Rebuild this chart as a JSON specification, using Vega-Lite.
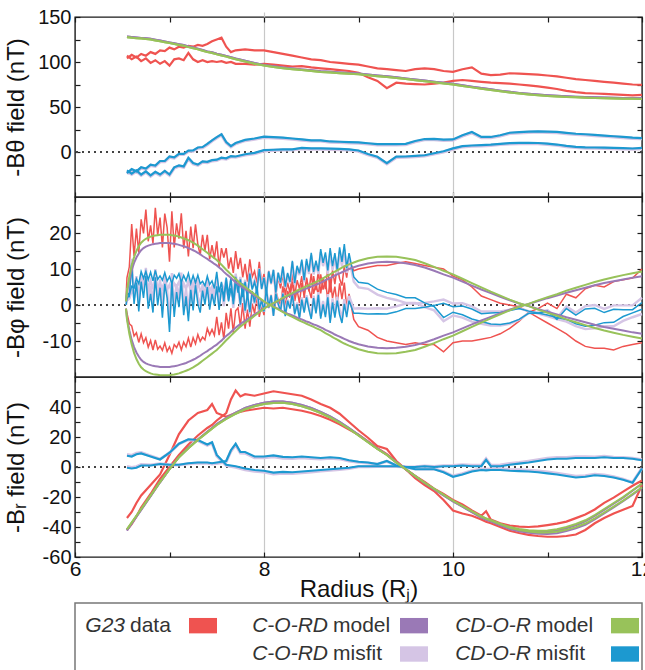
{
  "$schema": "https://vega.github.io/schema/vega-lite/v6.json",
  "background": "white",
  "padding": {"left": 3, "top": 6, "right": -8, "bottom": 0},
  "spacing": 0,
  "config": {
    "font": "Liberation Sans",
    "view": {"stroke": "#1a1a1a", "strokeWidth": 1.4},
    "axis": {"domain": false, "tickColor": "#1a1a1a", "tickWidth": 1.2, "tickSize": 5, "offset": -5, "labelPadding": 4, "labelFontSize": 20, "labelColor": "#111", "titleFontSize": 24, "titleFontWeight": "normal", "titleColor": "#111", "gridColor": "#c8c8c8", "gridWidth": 1.2, "labelFlush": false},
    "axisX": {"labelFontSize": 21, "labelPadding": 1}
  },
  "datasets": {
    "th": [
      {"b":"A","r":6.55,"d":104,"p":128.3,"g":127.5,"q":-24.3,"c":-23.5},
      {"b":"A","r":6.6,"d":108,"p":127.8,"g":127,"q":-19.8,"c":-19},
      {"b":"A","r":6.65,"d":105,"p":127.3,"g":126.5,"q":-22.3,"c":-21.5},
      {"b":"A","r":6.7,"d":109,"p":126.8,"g":126,"q":-17.8,"c":-17},
      {"b":"A","r":6.75,"d":107,"p":126.3,"g":125.5,"q":-19.3,"c":-18.5},
      {"b":"A","r":6.8,"d":111,"p":125.8,"g":125,"q":-14.8,"c":-14},
      {"b":"A","r":6.85,"d":109,"p":124.8,"g":124,"q":-15.8,"c":-15},
      {"b":"A","r":6.9,"d":113,"p":123.8,"g":123,"q":-10.8,"c":-10},
      {"b":"A","r":6.95,"d":112,"p":122.8,"g":122,"q":-10.8,"c":-10},
      {"b":"A","r":7.0,"d":116,"p":121.8,"g":121,"q":-5.8,"c":-5},
      {"b":"A","r":7.05,"d":114,"p":120.8,"g":120,"q":-6.8,"c":-6},
      {"b":"A","r":7.1,"d":117,"p":119.8,"g":119,"q":-2.8,"c":-2},
      {"b":"A","r":7.15,"d":116,"p":118.8,"g":118,"q":-2.8,"c":-2},
      {"b":"A","r":7.2,"d":118,"p":117.3,"g":116.5,"q":0.7,"c":1.5},
      {"b":"A","r":7.25,"d":117,"p":116.1,"g":115.3,"q":0.9,"c":1.7},
      {"b":"A","r":7.3,"d":119,"p":114.8,"g":114,"q":4.2,"c":5},
      {"b":"A","r":7.35,"d":118,"p":113.3,"g":112.5,"q":4.7,"c":5.5},
      {"b":"A","r":7.4,"d":120,"p":111.8,"g":111,"q":8.2,"c":9},
      {"b":"A","r":7.45,"d":123,"p":110.8,"g":110,"q":12.2,"c":13},
      {"b":"A","r":7.5,"d":125,"p":109.3,"g":108.5,"q":15.7,"c":16.5},
      {"b":"A","r":7.55,"d":127,"p":108.1,"g":107.3,"q":18.9,"c":19.7},
      {"b":"A","r":7.6,"d":117,"p":106.8,"g":106,"q":10.2,"c":11},
      {"b":"A","r":7.65,"d":111,"p":105.3,"g":104.5,"q":5.7,"c":6.5},
      {"b":"A","r":7.7,"d":113,"p":103.8,"g":103,"q":9.2,"c":10},
      {"b":"A","r":7.8,"d":114,"p":101.3,"g":100.5,"q":12.7,"c":13.5},
      {"b":"A","r":7.9,"d":113,"p":98.8,"g":98,"q":14.2,"c":15},
      {"b":"A","r":8.0,"d":113,"p":96.8,"g":96,"q":16.2,"c":17},
      {"b":"A","r":8.1,"d":111,"p":95.3,"g":94.5,"q":15.7,"c":16.5},
      {"b":"A","r":8.2,"d":109,"p":93.8,"g":93,"q":15.2,"c":16},
      {"b":"A","r":8.3,"d":107,"p":92.8,"g":92,"q":14.2,"c":15},
      {"b":"A","r":8.4,"d":105,"p":91.8,"g":91,"q":13.2,"c":14},
      {"b":"A","r":8.5,"d":103,"p":90.8,"g":90,"q":12.2,"c":13},
      {"b":"A","r":8.6,"d":102,"p":89.8,"g":89,"q":12.2,"c":13},
      {"b":"A","r":8.7,"d":100,"p":89.1,"g":88.3,"q":10.9,"c":11.7},
      {"b":"A","r":8.8,"d":99,"p":88.4,"g":87.6,"q":10.6,"c":11.4},
      {"b":"A","r":8.9,"d":98,"p":87.8,"g":87,"q":10.2,"c":11},
      {"b":"A","r":9.0,"d":97,"p":87.1,"g":86.3,"q":9.9,"c":10.7},
      {"b":"A","r":9.1,"d":95,"p":86.1,"g":85.3,"q":8.9,"c":9.7},
      {"b":"A","r":9.2,"d":93,"p":85.1,"g":84.3,"q":7.9,"c":8.7},
      {"b":"A","r":9.3,"d":92,"p":84.1,"g":83.3,"q":7.9,"c":8.7},
      {"b":"A","r":9.4,"d":91,"p":83,"g":82.2,"q":8,"c":8.8},
      {"b":"A","r":9.5,"d":90,"p":81.8,"g":81,"q":8.2,"c":9},
      {"b":"A","r":9.6,"d":92,"p":80.6,"g":79.8,"q":11.4,"c":12.2},
      {"b":"A","r":9.7,"d":93,"p":79.4,"g":78.6,"q":13.6,"c":14.4},
      {"b":"A","r":9.8,"d":92,"p":78.2,"g":77.4,"q":13.8,"c":14.6},
      {"b":"A","r":9.9,"d":90,"p":77,"g":76.2,"q":13,"c":13.8},
      {"b":"A","r":10.0,"d":89,"p":75.8,"g":75,"q":13.2,"c":14},
      {"b":"A","r":10.1,"d":92,"p":74.2,"g":73.4,"q":17.8,"c":18.6},
      {"b":"A","r":10.2,"d":94,"p":72.6,"g":71.8,"q":21.4,"c":22.2},
      {"b":"A","r":10.3,"d":87,"p":71.1,"g":70.3,"q":15.9,"c":16.7},
      {"b":"A","r":10.4,"d":85.5,"p":69.6,"g":68.8,"q":15.9,"c":16.7},
      {"b":"A","r":10.5,"d":86,"p":68.2,"g":67.4,"q":17.8,"c":18.6},
      {"b":"A","r":10.6,"d":87.5,"p":66.9,"g":66.1,"q":20.6,"c":21.4},
      {"b":"A","r":10.7,"d":87,"p":65.7,"g":64.9,"q":21.3,"c":22.1},
      {"b":"A","r":10.8,"d":86.5,"p":64.7,"g":63.9,"q":21.8,"c":22.6},
      {"b":"A","r":10.9,"d":86,"p":63.8,"g":63,"q":22.2,"c":23},
      {"b":"A","r":11.0,"d":85,"p":63.1,"g":62.3,"q":21.9,"c":22.7},
      {"b":"A","r":11.1,"d":84,"p":62.5,"g":61.7,"q":21.5,"c":22.3},
      {"b":"A","r":11.2,"d":82.5,"p":62,"g":61.2,"q":20.5,"c":21.3},
      {"b":"A","r":11.3,"d":81,"p":61.5,"g":60.7,"q":19.5,"c":20.3},
      {"b":"A","r":11.4,"d":80,"p":61.1,"g":60.3,"q":18.9,"c":19.7},
      {"b":"A","r":11.5,"d":79,"p":60.8,"g":60,"q":18.2,"c":19},
      {"b":"A","r":11.6,"d":78,"p":60.5,"g":59.7,"q":17.5,"c":18.3},
      {"b":"A","r":11.7,"d":77,"p":60.3,"g":59.5,"q":16.7,"c":17.5},
      {"b":"A","r":11.8,"d":76,"p":60.1,"g":59.3,"q":15.9,"c":16.7},
      {"b":"A","r":11.9,"d":75,"p":59.9,"g":59.1,"q":15.1,"c":15.9},
      {"b":"A","r":12.0,"d":74.5,"p":59.8,"g":59,"q":14.7,"c":15.5},
      {"b":"B","r":6.55,"d":107,"p":128.3,"g":127.5,"q":-21.3,"c":-20.5},
      {"b":"B","r":6.6,"d":103,"p":127.8,"g":127,"q":-24.8,"c":-24},
      {"b":"B","r":6.65,"d":106,"p":127.3,"g":126.5,"q":-21.3,"c":-20.5},
      {"b":"B","r":6.7,"d":101,"p":126.8,"g":126,"q":-25.8,"c":-25},
      {"b":"B","r":6.75,"d":104,"p":126.3,"g":125.5,"q":-22.3,"c":-21.5},
      {"b":"B","r":6.8,"d":99,"p":125.8,"g":125,"q":-26.8,"c":-26},
      {"b":"B","r":6.85,"d":102,"p":124.8,"g":124,"q":-22.8,"c":-22},
      {"b":"B","r":6.9,"d":98,"p":123.8,"g":123,"q":-25.8,"c":-25},
      {"b":"B","r":6.95,"d":101,"p":122.8,"g":122,"q":-21.8,"c":-21},
      {"b":"B","r":7.0,"d":96,"p":121.8,"g":121,"q":-25.8,"c":-25},
      {"b":"B","r":7.05,"d":103,"p":120.8,"g":120,"q":-17.8,"c":-17},
      {"b":"B","r":7.1,"d":104,"p":119.8,"g":119,"q":-15.8,"c":-15},
      {"b":"B","r":7.15,"d":102,"p":118.8,"g":118,"q":-16.8,"c":-16},
      {"b":"B","r":7.2,"d":110,"p":117.3,"g":116.5,"q":-7.3,"c":-6.5},
      {"b":"B","r":7.25,"d":103,"p":116.1,"g":115.3,"q":-13.1,"c":-12.3},
      {"b":"B","r":7.3,"d":100,"p":114.8,"g":114,"q":-14.8,"c":-14},
      {"b":"B","r":7.35,"d":102,"p":113.3,"g":112.5,"q":-11.3,"c":-10.5},
      {"b":"B","r":7.4,"d":100,"p":111.8,"g":111,"q":-11.8,"c":-11},
      {"b":"B","r":7.45,"d":101,"p":110.8,"g":110,"q":-9.8,"c":-9},
      {"b":"B","r":7.5,"d":100,"p":109.3,"g":108.5,"q":-9.3,"c":-8.5},
      {"b":"B","r":7.55,"d":101,"p":108.1,"g":107.3,"q":-7.1,"c":-6.3},
      {"b":"B","r":7.6,"d":99,"p":106.8,"g":106,"q":-7.8,"c":-7},
      {"b":"B","r":7.65,"d":100,"p":105.3,"g":104.5,"q":-5.3,"c":-4.5},
      {"b":"B","r":7.7,"d":98,"p":103.8,"g":103,"q":-5.8,"c":-5},
      {"b":"B","r":7.8,"d":98,"p":101.3,"g":100.5,"q":-3.3,"c":-2.5},
      {"b":"B","r":7.9,"d":97,"p":98.8,"g":98,"q":-1.8,"c":-1},
      {"b":"B","r":8.0,"d":98,"p":96.8,"g":96,"q":1.2,"c":2},
      {"b":"B","r":8.1,"d":97,"p":95.3,"g":94.5,"q":1.7,"c":2.5},
      {"b":"B","r":8.2,"d":96,"p":93.8,"g":93,"q":2.2,"c":3},
      {"b":"B","r":8.3,"d":95,"p":92.8,"g":92,"q":2.2,"c":3},
      {"b":"B","r":8.4,"d":95.5,"p":91.8,"g":91,"q":3.7,"c":4.5},
      {"b":"B","r":8.5,"d":94,"p":90.8,"g":90,"q":3.2,"c":4},
      {"b":"B","r":8.6,"d":93,"p":89.8,"g":89,"q":3.2,"c":4},
      {"b":"B","r":8.7,"d":92,"p":89.1,"g":88.3,"q":2.9,"c":3.7},
      {"b":"B","r":8.8,"d":91,"p":88.4,"g":87.6,"q":2.6,"c":3.4},
      {"b":"B","r":8.9,"d":90,"p":87.8,"g":87,"q":2.2,"c":3},
      {"b":"B","r":9.0,"d":88,"p":87.1,"g":86.3,"q":0.9,"c":1.7},
      {"b":"B","r":9.1,"d":83,"p":86.1,"g":85.3,"q":-3.1,"c":-2.3},
      {"b":"B","r":9.2,"d":79,"p":85.1,"g":84.3,"q":-6.1,"c":-5.3},
      {"b":"B","r":9.3,"d":71,"p":84.1,"g":83.3,"q":-13.1,"c":-12.3},
      {"b":"B","r":9.4,"d":77,"p":83,"g":82.2,"q":-6,"c":-5.2},
      {"b":"B","r":9.5,"d":76,"p":81.8,"g":81,"q":-5.8,"c":-5},
      {"b":"B","r":9.6,"d":75.5,"p":80.6,"g":79.8,"q":-5.1,"c":-4.3},
      {"b":"B","r":9.7,"d":75,"p":79.4,"g":78.6,"q":-4.4,"c":-3.6},
      {"b":"B","r":9.8,"d":76,"p":78.2,"g":77.4,"q":-2.2,"c":-1.4},
      {"b":"B","r":9.9,"d":77,"p":77,"g":76.2,"q":0,"c":0.8},
      {"b":"B","r":10.0,"d":79,"p":75.8,"g":75,"q":3.2,"c":4},
      {"b":"B","r":10.1,"d":80,"p":74.2,"g":73.4,"q":5.8,"c":6.6},
      {"b":"B","r":10.2,"d":79,"p":72.6,"g":71.8,"q":6.4,"c":7.2},
      {"b":"B","r":10.3,"d":78,"p":71.1,"g":70.3,"q":6.9,"c":7.7},
      {"b":"B","r":10.4,"d":77,"p":69.6,"g":68.8,"q":7.4,"c":8.2},
      {"b":"B","r":10.5,"d":76.5,"p":68.2,"g":67.4,"q":8.3,"c":9.1},
      {"b":"B","r":10.6,"d":76,"p":66.9,"g":66.1,"q":9.1,"c":9.9},
      {"b":"B","r":10.7,"d":75,"p":65.7,"g":64.9,"q":9.3,"c":10.1},
      {"b":"B","r":10.8,"d":74,"p":64.7,"g":63.9,"q":9.3,"c":10.1},
      {"b":"B","r":10.9,"d":73,"p":63.8,"g":63,"q":9.2,"c":10},
      {"b":"B","r":11.0,"d":71.5,"p":63.1,"g":62.3,"q":8.4,"c":9.2},
      {"b":"B","r":11.1,"d":70,"p":62.5,"g":61.7,"q":7.5,"c":8.3},
      {"b":"B","r":11.2,"d":68,"p":62,"g":61.2,"q":6,"c":6.8},
      {"b":"B","r":11.3,"d":66.5,"p":61.5,"g":60.7,"q":5,"c":5.8},
      {"b":"B","r":11.4,"d":65.5,"p":61.1,"g":60.3,"q":4.4,"c":5.2},
      {"b":"B","r":11.5,"d":65,"p":60.8,"g":60,"q":4.2,"c":5},
      {"b":"B","r":11.6,"d":64.5,"p":60.5,"g":59.7,"q":4,"c":4.8},
      {"b":"B","r":11.7,"d":64,"p":60.3,"g":59.5,"q":3.7,"c":4.5},
      {"b":"B","r":11.8,"d":63.5,"p":60.1,"g":59.3,"q":3.4,"c":4.2},
      {"b":"B","r":11.9,"d":63,"p":59.9,"g":59.1,"q":3.1,"c":3.9},
      {"b":"B","r":12.0,"d":63.5,"p":59.8,"g":59,"q":3.7,"c":4.5}
    ],
    "ph": [
      {"b":"U","r":6.54,"d":2,"p":1,"g":1,"q":1,"c":1},
      {"b":"U","r":6.55,"d":7.6,"p":3.5,"g":4,"q":4.1,"c":3.6},
      {"b":"U","r":6.575,"d":10.6,"p":7,"g":8,"q":3.6,"c":2.6},
      {"b":"U","r":6.6,"d":22.5,"p":9.7,"g":11,"q":12.8,"c":11.5},
      {"b":"U","r":6.625,"d":13.6,"p":11.7,"g":13.3,"q":1.9,"c":0.3},
      {"b":"U","r":6.65,"d":21.2,"p":13.2,"g":15,"q":8,"c":6.2},
      {"b":"U","r":6.675,"d":14.5,"p":14.3,"g":16.3,"q":0.2,"c":-1.8},
      {"b":"U","r":6.7,"d":23.8,"p":15.2,"g":17.3,"q":8.6,"c":6.5},
      {"b":"U","r":6.725,"d":19.9,"p":15.8,"g":17.9,"q":4.1,"c":2},
      {"b":"U","r":6.75,"d":26.5,"p":16.2,"g":18.4,"q":10.3,"c":8.1},
      {"b":"U","r":6.775,"d":17.7,"p":16.5,"g":18.7,"q":1.2,"c":-1},
      {"b":"U","r":6.8,"d":22.1,"p":16.7,"g":19,"q":5.4,"c":3.1},
      {"b":"U","r":6.825,"d":17.1,"p":16.9,"g":19.2,"q":0.2,"c":-2.1},
      {"b":"U","r":6.85,"d":27,"p":17,"g":19.3,"q":10,"c":7.7},
      {"b":"U","r":6.875,"d":19.3,"p":17.1,"g":19.4,"q":2.2,"c":-0.1},
      {"b":"U","r":6.9,"d":24.3,"p":17.2,"g":19.5,"q":7.1,"c":4.8},
      {"b":"U","r":6.925,"d":16,"p":17.2,"g":19.5,"q":-1.2,"c":-3.5},
      {"b":"U","r":6.95,"d":25.4,"p":17.2,"g":19.5,"q":8.2,"c":5.9},
      {"b":"U","r":6.975,"d":21.5,"p":17.2,"g":19.5,"q":4.3,"c":2},
      {"b":"U","r":7.0,"d":12,"p":17.2,"g":19.5,"q":-5.2,"c":-7.5},
      {"b":"U","r":7.025,"d":26,"p":17.1,"g":19.4,"q":8.9,"c":6.6},
      {"b":"U","r":7.05,"d":16,"p":17,"g":19.3,"q":-1,"c":-3.3},
      {"b":"U","r":7.075,"d":22.7,"p":16.9,"g":19.15,"q":5.8,"c":3.6},
      {"b":"U","r":7.1,"d":18.4,"p":16.7,"g":19,"q":1.7,"c":-0.6},
      {"b":"U","r":7.125,"d":25.5,"p":16.5,"g":18.75,"q":9,"c":6.8},
      {"b":"U","r":7.15,"d":15.7,"p":16.3,"g":18.5,"q":-0.6,"c":-2.8},
      {"b":"U","r":7.175,"d":20.6,"p":16.1,"g":18.25,"q":4.5,"c":2.4},
      {"b":"U","r":7.2,"d":13.5,"p":15.8,"g":18,"q":-2.3,"c":-4.5},
      {"b":"U","r":7.225,"d":21.8,"p":15.5,"g":17.65,"q":6.3,"c":4.2},
      {"b":"U","r":7.25,"d":15.8,"p":15.2,"g":17.3,"q":0.6,"c":-1.5},
      {"b":"U","r":7.275,"d":22.4,"p":14.9,"g":16.9,"q":7.5,"c":5.5},
      {"b":"U","r":7.3,"d":16.8,"p":14.5,"g":16.5,"q":2.3,"c":0.3},
      {"b":"U","r":7.325,"d":13.9,"p":14.1,"g":16,"q":-0.2,"c":-2.1},
      {"b":"U","r":7.35,"d":19.5,"p":13.6,"g":15.5,"q":5.9,"c":4},
      {"b":"U","r":7.375,"d":15.1,"p":13.2,"g":15,"q":1.9,"c":0.1},
      {"b":"U","r":7.4,"d":19.5,"p":12.8,"g":14.5,"q":6.7,"c":5},
      {"b":"U","r":7.425,"d":12.7,"p":12.3,"g":14,"q":0.4,"c":-1.3},
      {"b":"U","r":7.45,"d":16.6,"p":11.9,"g":13.5,"q":4.7,"c":3.1},
      {"b":"U","r":7.475,"d":12.9,"p":11.4,"g":13,"q":1.5,"c":-0.1},
      {"b":"U","r":7.5,"d":17.7,"p":11,"g":12.5,"q":6.7,"c":5.2},
      {"b":"U","r":7.525,"d":10.5,"p":10.4,"g":11.85,"q":0.1,"c":-1.4},
      {"b":"U","r":7.55,"d":15.8,"p":9.9,"g":11.2,"q":5.9,"c":4.6},
      {"b":"U","r":7.575,"d":13.2,"p":9.2,"g":10.5,"q":4,"c":2.7},
      {"b":"U","r":7.6,"d":15.8,"p":8.6,"g":9.8,"q":7.2,"c":6},
      {"b":"U","r":7.625,"d":10.1,"p":8.1,"g":9.15,"q":2,"c":1},
      {"b":"U","r":7.65,"d":13.2,"p":7.5,"g":8.5,"q":5.7,"c":4.7},
      {"b":"U","r":7.675,"d":8.9,"p":6.9,"g":7.85,"q":2,"c":1.1},
      {"b":"U","r":7.7,"d":15,"p":6.3,"g":7.2,"q":8.7,"c":7.8},
      {"b":"U","r":7.725,"d":10,"p":5.8,"g":6.6,"q":4.2,"c":3.4},
      {"b":"U","r":7.75,"d":13.1,"p":5.3,"g":6,"q":7.8,"c":7.1},
      {"b":"U","r":7.775,"d":7.7,"p":4.8,"g":5.5,"q":2.9,"c":2.2},
      {"b":"U","r":7.8,"d":11.4,"p":4.4,"g":5,"q":7,"c":6.4},
      {"b":"U","r":7.825,"d":6.5,"p":4,"g":4.5,"q":2.5,"c":2},
      {"b":"U","r":7.85,"d":12.7,"p":3.5,"g":4,"q":9.2,"c":8.7},
      {"b":"U","r":7.875,"d":7.8,"p":3.1,"g":3.5,"q":4.7,"c":4.3},
      {"b":"U","r":7.9,"d":9.4,"p":2.6,"g":3,"q":6.8,"c":6.4},
      {"b":"U","r":7.925,"d":6.1,"p":2.2,"g":2.5,"q":3.9,"c":3.6},
      {"b":"U","r":7.95,"d":12,"p":1.8,"g":2,"q":10.2,"c":10},
      {"b":"U","r":7.975,"d":5.9,"p":1.3,"g":1.5,"q":4.6,"c":4.4},
      {"b":"U","r":8.0,"d":8.6,"p":0.9,"g":1,"q":7.7,"c":7.6},
      {"b":"U","r":8.025,"d":3.9,"p":0.5,"g":0.6,"q":3.4,"c":3.3},
      {"b":"U","r":8.05,"d":9.5,"p":0.2,"g":0.2,"q":9.3,"c":9.3},
      {"b":"U","r":8.075,"d":5.8,"p":-0.1,"g":-0.15,"q":5.9,"c":6},
      {"b":"U","r":8.1,"d":9.3,"p":-0.4,"g":-0.5,"q":9.7,"c":9.8},
      {"b":"U","r":8.125,"d":2.5,"p":-0.7,"g":-0.85,"q":3.2,"c":3.4},
      {"b":"U","r":8.15,"d":7.8,"p":-1.1,"g":-1.2,"q":8.9,"c":9},
      {"b":"U","r":8.175,"d":4.6,"p":-1.4,"g":-1.6,"q":6,"c":6.2},
      {"b":"U","r":8.2,"d":8.7,"p":-1.8,"g":-2,"q":10.5,"c":10.7},
      {"b":"U","r":8.225,"d":2.7,"p":-2.1,"g":-2.35,"q":4.8,"c":5.1},
      {"b":"U","r":8.25,"d":6.2,"p":-2.4,"g":-2.7,"q":8.6,"c":8.9},
      {"b":"U","r":8.275,"d":3.4,"p":-2.6,"g":-3,"q":6,"c":6.4},
      {"b":"U","r":8.3,"d":9,"p":-2.9,"g":-3.3,"q":11.9,"c":12.3},
      {"b":"U","r":8.325,"d":2.4,"p":-3.2,"g":-3.65,"q":5.6,"c":6.1},
      {"b":"U","r":8.35,"d":6.9,"p":-3.5,"g":-4,"q":10.4,"c":10.9},
      {"b":"U","r":8.375,"d":4.5,"p":-3.8,"g":-4.3,"q":8.3,"c":8.8},
      {"b":"U","r":8.4,"d":8,"p":-4,"g":-4.6,"q":12,"c":12.6},
      {"b":"U","r":8.425,"d":2,"p":-4.3,"g":-4.9,"q":6.3,"c":6.9},
      {"b":"U","r":8.45,"d":7.6,"p":-4.6,"g":-5.2,"q":12.2,"c":12.8},
      {"b":"U","r":8.475,"d":3.8,"p":-4.8,"g":-5.5,"q":8.6,"c":9.3},
      {"b":"U","r":8.5,"d":8.7,"p":-5.1,"g":-5.8,"q":13.8,"c":14.5},
      {"b":"U","r":8.525,"d":3.1,"p":-5.4,"g":-6.1,"q":8.5,"c":9.2},
      {"b":"U","r":8.55,"d":5.9,"p":-5.6,"g":-6.4,"q":11.5,"c":12.3},
      {"b":"U","r":8.575,"d":2.7,"p":-5.9,"g":-6.7,"q":8.6,"c":9.4},
      {"b":"U","r":8.6,"d":8.5,"p":-6.2,"g":-7,"q":14.7,"c":15.5},
      {"b":"U","r":8.625,"d":4.3,"p":-6.5,"g":-7.4,"q":10.8,"c":11.7},
      {"b":"U","r":8.65,"d":6.8,"p":-6.9,"g":-7.8,"q":13.7,"c":14.6},
      {"b":"U","r":8.675,"d":1.4,"p":-7.2,"g":-8.15,"q":8.6,"c":9.6},
      {"b":"U","r":8.7,"d":7.3,"p":-7.5,"g":-8.5,"q":14.8,"c":15.8},
      {"b":"U","r":8.725,"d":1.9,"p":-7.8,"g":-8.9,"q":9.7,"c":10.8},
      {"b":"U","r":8.75,"d":5.1,"p":-8.2,"g":-9.3,"q":13.3,"c":14.4},
      {"b":"U","r":8.775,"d":0,"p":-8.5,"g":-9.65,"q":8.5,"c":9.7},
      {"b":"U","r":8.8,"d":6,"p":-8.8,"g":-10,"q":14.8,"c":16},
      {"b":"U","r":8.825,"d":1.6,"p":-9.1,"g":-10.35,"q":10.7,"c":12},
      {"b":"U","r":8.85,"d":6.2,"p":-9.4,"g":-10.7,"q":15.6,"c":16.9},
      {"b":"U","r":8.875,"d":-0.8,"p":-9.7,"g":-11,"q":8.9,"c":10.2},
      {"b":"U","r":8.9,"d":3.1,"p":-10,"g":-11.3,"q":13.1,"c":14.4},
      {"b":"U","r":8.95,"d":-4,"p":-10.5,"g":-11.8,"q":6.5,"c":7.8},
      {"b":"U","r":9.0,"d":-6,"p":-10.9,"g":-12.3,"q":4.9,"c":6.3},
      {"b":"U","r":9.1,"d":-7,"p":-11.5,"g":-13,"q":4.5,"c":6},
      {"b":"U","r":9.2,"d":-9,"p":-11.9,"g":-13.4,"q":2.9,"c":4.4},
      {"b":"U","r":9.3,"d":-10,"p":-12,"g":-13.5,"q":2,"c":3.5},
      {"b":"U","r":9.4,"d":-10.5,"p":-11.9,"g":-13.4,"q":1.4,"c":2.9},
      {"b":"U","r":9.5,"d":-11,"p":-11.6,"g":-13,"q":0.6,"c":2},
      {"b":"U","r":9.6,"d":-10.5,"p":-11.1,"g":-12.5,"q":0.6,"c":2},
      {"b":"U","r":9.7,"d":-11,"p":-10.4,"g":-11.6,"q":-0.6,"c":0.6},
      {"b":"U","r":9.8,"d":-11,"p":-9.5,"g":-10.6,"q":-1.5,"c":-0.4},
      {"b":"U","r":9.9,"d":-13,"p":-8.5,"g":-9.5,"q":-4.5,"c":-3.5},
      {"b":"U","r":10.0,"d":-10.5,"p":-7.6,"g":-8.5,"q":-2.9,"c":-2},
      {"b":"U","r":10.1,"d":-10,"p":-6.5,"g":-7.3,"q":-3.5,"c":-2.7},
      {"b":"U","r":10.2,"d":-10,"p":-5.4,"g":-6.1,"q":-4.6,"c":-3.9},
      {"b":"U","r":10.3,"d":-9.5,"p":-4.3,"g":-4.9,"q":-5.2,"c":-4.6},
      {"b":"U","r":10.4,"d":-9,"p":-3.3,"g":-3.7,"q":-5.7,"c":-5.3},
      {"b":"U","r":10.5,"d":-8,"p":-2.3,"g":-2.6,"q":-5.7,"c":-5.4},
      {"b":"U","r":10.6,"d":-6.5,"p":-1.3,"g":-1.5,"q":-5.2,"c":-5},
      {"b":"U","r":10.7,"d":-4.5,"p":-0.4,"g":-0.5,"q":-4.1,"c":-4},
      {"b":"U","r":10.8,"d":-2,"p":0.3,"g":0.3,"q":-2.3,"c":-2.3},
      {"b":"U","r":10.9,"d":-1,"p":1.1,"g":1.3,"q":-2.1,"c":-2.3},
      {"b":"U","r":11.0,"d":0.5,"p":1.9,"g":2.2,"q":-1.4,"c":-1.7},
      {"b":"U","r":11.1,"d":-1,"p":2.6,"g":3,"q":-3.6,"c":-4},
      {"b":"U","r":11.2,"d":3,"p":3.4,"g":4,"q":-0.4,"c":-1},
      {"b":"U","r":11.3,"d":2,"p":4.1,"g":4.8,"q":-2.1,"c":-2.8},
      {"b":"U","r":11.4,"d":4.5,"p":4.8,"g":5.6,"q":-0.3,"c":-1.1},
      {"b":"U","r":11.5,"d":5.5,"p":5.5,"g":6.4,"q":0,"c":-0.9},
      {"b":"U","r":11.6,"d":5,"p":6.1,"g":7.1,"q":-1.1,"c":-2.1},
      {"b":"U","r":11.7,"d":6.5,"p":6.6,"g":7.7,"q":-0.1,"c":-1.2},
      {"b":"U","r":11.8,"d":7,"p":7.1,"g":8.3,"q":-0.1,"c":-1.3},
      {"b":"U","r":11.9,"d":7.5,"p":7.6,"g":8.8,"q":-0.1,"c":-1.3},
      {"b":"U","r":12.0,"d":10,"p":8,"g":9.3,"q":2,"c":0.7},
      {"b":"L","r":6.54,"d":-1,"p":-1,"g":-1,"q":0,"c":0},
      {"b":"L","r":6.55,"d":-2.3,"p":-3.5,"g":-4,"q":1.2,"c":1.7},
      {"b":"L","r":6.575,"d":-5.2,"p":-7,"g":-8,"q":1.8,"c":2.8},
      {"b":"L","r":6.6,"d":-5.8,"p":-9.7,"g":-11,"q":3.9,"c":5.2},
      {"b":"L","r":6.625,"d":-8.6,"p":-11.7,"g":-13.3,"q":3.1,"c":4.7},
      {"b":"L","r":6.65,"d":-7.7,"p":-13.2,"g":-15,"q":5.5,"c":7.3},
      {"b":"L","r":6.675,"d":-10.4,"p":-14.3,"g":-16.3,"q":3.9,"c":5.9},
      {"b":"L","r":6.7,"d":-8,"p":-15.2,"g":-17.3,"q":7.2,"c":9.3},
      {"b":"L","r":6.725,"d":-10.5,"p":-15.8,"g":-17.9,"q":5.3,"c":7.4},
      {"b":"L","r":6.75,"d":-9.1,"p":-16.2,"g":-18.4,"q":7.1,"c":9.3},
      {"b":"L","r":6.775,"d":-11.7,"p":-16.5,"g":-18.7,"q":4.8,"c":7},
      {"b":"L","r":6.8,"d":-9.9,"p":-16.7,"g":-19,"q":6.8,"c":9.1},
      {"b":"L","r":6.825,"d":-12.5,"p":-16.9,"g":-19.2,"q":4.4,"c":6.7},
      {"b":"L","r":6.85,"d":-9.7,"p":-17,"g":-19.3,"q":7.3,"c":9.6},
      {"b":"L","r":6.875,"d":-12.3,"p":-17.1,"g":-19.4,"q":4.8,"c":7.1},
      {"b":"L","r":6.9,"d":-11.4,"p":-17.2,"g":-19.5,"q":5.8,"c":8.1},
      {"b":"L","r":6.925,"d":-12.6,"p":-17.2,"g":-19.5,"q":4.6,"c":6.9},
      {"b":"L","r":6.95,"d":-10.5,"p":-17.2,"g":-19.5,"q":6.7,"c":9},
      {"b":"L","r":6.975,"d":-12.9,"p":-17.2,"g":-19.5,"q":4.3,"c":6.6},
      {"b":"L","r":7.0,"d":-11.6,"p":-17.2,"g":-19.5,"q":5.6,"c":7.9},
      {"b":"L","r":7.025,"d":-13.4,"p":-17.1,"g":-19.4,"q":3.7,"c":6},
      {"b":"L","r":7.05,"d":-11,"p":-17,"g":-19.3,"q":6,"c":8.3},
      {"b":"L","r":7.075,"d":-11.8,"p":-16.9,"g":-19.15,"q":5.1,"c":7.4},
      {"b":"L","r":7.1,"d":-10.3,"p":-16.7,"g":-19,"q":6.4,"c":8.7},
      {"b":"L","r":7.125,"d":-12.5,"p":-16.5,"g":-18.75,"q":4,"c":6.3},
      {"b":"L","r":7.15,"d":-10.3,"p":-16.3,"g":-18.5,"q":6,"c":8.2},
      {"b":"L","r":7.175,"d":-11.6,"p":-16.1,"g":-18.25,"q":4.5,"c":6.7},
      {"b":"L","r":7.2,"d":-9.2,"p":-15.8,"g":-18,"q":6.6,"c":8.8},
      {"b":"L","r":7.225,"d":-11.7,"p":-15.5,"g":-17.65,"q":3.8,"c":6},
      {"b":"L","r":7.25,"d":-9.1,"p":-15.2,"g":-17.3,"q":6.1,"c":8.2},
      {"b":"L","r":7.275,"d":-10.8,"p":-14.9,"g":-16.9,"q":4.1,"c":6.1},
      {"b":"L","r":7.3,"d":-8.2,"p":-14.5,"g":-16.5,"q":6.3,"c":8.3},
      {"b":"L","r":7.325,"d":-10.1,"p":-14.1,"g":-16,"q":4,"c":5.9},
      {"b":"L","r":7.35,"d":-8.9,"p":-13.6,"g":-15.5,"q":4.7,"c":6.6},
      {"b":"L","r":7.375,"d":-9.7,"p":-13.2,"g":-15,"q":3.5,"c":5.3},
      {"b":"L","r":7.4,"d":-6.5,"p":-12.8,"g":-14.5,"q":6.3,"c":8},
      {"b":"L","r":7.425,"d":-8.3,"p":-12.3,"g":-14,"q":4,"c":5.7},
      {"b":"L","r":7.45,"d":-6.8,"p":-11.9,"g":-13.5,"q":5.1,"c":6.7},
      {"b":"L","r":7.475,"d":-8.4,"p":-11.4,"g":-13,"q":3,"c":4.6},
      {"b":"L","r":7.5,"d":-3.3,"p":-11,"g":-12.5,"q":7.7,"c":9.2},
      {"b":"L","r":7.525,"d":-8.4,"p":-10.4,"g":-11.85,"q":2,"c":3.5},
      {"b":"L","r":7.55,"d":-4.8,"p":-9.9,"g":-11.2,"q":5.1,"c":6.4},
      {"b":"L","r":7.575,"d":-9.5,"p":-9.2,"g":-10.5,"q":-0.3,"c":1},
      {"b":"L","r":7.6,"d":-2.2,"p":-8.6,"g":-9.8,"q":6.4,"c":7.6},
      {"b":"L","r":7.625,"d":-6.6,"p":-8.1,"g":-9.15,"q":1.5,"c":2.6},
      {"b":"L","r":7.65,"d":-0.9,"p":-7.5,"g":-8.5,"q":6.6,"c":7.6},
      {"b":"L","r":7.675,"d":-7.7,"p":-6.9,"g":-7.85,"q":-0.8,"c":0.2},
      {"b":"L","r":7.7,"d":-1.6,"p":-6.3,"g":-7.2,"q":4.7,"c":5.6},
      {"b":"L","r":7.725,"d":-0.8,"p":-5.8,"g":-6.6,"q":5,"c":5.8},
      {"b":"L","r":7.75,"d":-5.9,"p":-5.3,"g":-6,"q":-0.6,"c":0.1},
      {"b":"L","r":7.775,"d":0.5,"p":-4.8,"g":-5.5,"q":5.3,"c":6},
      {"b":"L","r":7.8,"d":-6.6,"p":-4.4,"g":-5,"q":-2.2,"c":-1.6},
      {"b":"L","r":7.825,"d":-1.3,"p":-4,"g":-4.5,"q":2.7,"c":3.2},
      {"b":"L","r":7.85,"d":-6,"p":-3.5,"g":-4,"q":-2.5,"c":-2},
      {"b":"L","r":7.875,"d":0.4,"p":-3.1,"g":-3.5,"q":3.5,"c":3.9},
      {"b":"L","r":7.9,"d":-2.3,"p":-2.6,"g":-3,"q":0.3,"c":0.7},
      {"b":"L","r":7.925,"d":2.6,"p":-2.2,"g":-2.5,"q":4.8,"c":5.1},
      {"b":"L","r":7.95,"d":-3.3,"p":-1.8,"g":-2,"q":-1.5,"c":-1.3},
      {"b":"L","r":7.975,"d":-0.1,"p":-1.3,"g":-1.5,"q":1.2,"c":1.4},
      {"b":"L","r":8.0,"d":-2.8,"p":-0.9,"g":-1,"q":-1.9,"c":-1.8},
      {"b":"L","r":8.025,"d":4,"p":-0.5,"g":-0.6,"q":4.5,"c":4.6},
      {"b":"L","r":8.05,"d":-0.9,"p":-0.2,"g":-0.2,"q":-0.7,"c":-0.7},
      {"b":"L","r":8.075,"d":2.8,"p":0.1,"g":0.15,"q":2.7,"c":2.7},
      {"b":"L","r":8.1,"d":-2.5,"p":0.4,"g":0.5,"q":-2.9,"c":-3},
      {"b":"L","r":8.125,"d":4,"p":0.7,"g":0.85,"q":3.3,"c":3.2},
      {"b":"L","r":8.15,"d":1.5,"p":1.1,"g":1.2,"q":0.4,"c":0.3},
      {"b":"L","r":8.175,"d":-0.1,"p":1.4,"g":1.6,"q":-1.5,"c":-1.7},
      {"b":"L","r":8.2,"d":5.2,"p":1.8,"g":2,"q":3.4,"c":3.2},
      {"b":"L","r":8.225,"d":-0.7,"p":2.1,"g":2.35,"q":-2.8,"c":-3.1},
      {"b":"L","r":8.25,"d":3.9,"p":2.4,"g":2.7,"q":1.5,"c":1.2},
      {"b":"L","r":8.275,"d":2,"p":2.6,"g":3,"q":-0.6,"c":-1},
      {"b":"L","r":8.3,"d":6.5,"p":2.9,"g":3.3,"q":3.6,"c":3.2},
      {"b":"L","r":8.325,"d":1.1,"p":3.2,"g":3.65,"q":-2.1,"c":-2.6},
      {"b":"L","r":8.35,"d":4.2,"p":3.5,"g":4,"q":0.7,"c":0.2},
      {"b":"L","r":8.375,"d":0.5,"p":3.8,"g":4.3,"q":-3.3,"c":-3.8},
      {"b":"L","r":8.4,"d":6.1,"p":4,"g":4.6,"q":2.1,"c":1.5},
      {"b":"L","r":8.425,"d":2.8,"p":4.3,"g":4.9,"q":-1.5,"c":-2.1},
      {"b":"L","r":8.45,"d":7.3,"p":4.6,"g":5.2,"q":2.7,"c":2.1},
      {"b":"L","r":8.475,"d":4.3,"p":4.8,"g":5.5,"q":-0.5,"c":-1.2},
      {"b":"L","r":8.5,"d":1.9,"p":5.1,"g":5.8,"q":-3.2,"c":-3.9},
      {"b":"L","r":8.525,"d":8,"p":5.4,"g":6.1,"q":2.6,"c":1.9},
      {"b":"L","r":8.55,"d":4.1,"p":5.6,"g":6.4,"q":-1.5,"c":-2.3},
      {"b":"L","r":8.575,"d":9.5,"p":5.9,"g":6.7,"q":3.6,"c":2.8},
      {"b":"L","r":8.6,"d":3.2,"p":6.2,"g":7,"q":-3,"c":-3.8},
      {"b":"L","r":8.625,"d":7.6,"p":6.5,"g":7.4,"q":1.1,"c":0.2},
      {"b":"L","r":8.65,"d":4.4,"p":6.9,"g":7.8,"q":-2.5,"c":-3.4},
      {"b":"L","r":8.675,"d":10.2,"p":7.2,"g":8.15,"q":3,"c":2.1},
      {"b":"L","r":8.7,"d":3.5,"p":7.5,"g":8.5,"q":-4,"c":-5},
      {"b":"L","r":8.725,"d":9.6,"p":7.8,"g":8.9,"q":1.8,"c":0.7},
      {"b":"L","r":8.75,"d":5.8,"p":8.2,"g":9.3,"q":-2.4,"c":-3.5},
      {"b":"L","r":8.775,"d":10.8,"p":8.5,"g":9.65,"q":2.3,"c":1.2},
      {"b":"L","r":8.8,"d":7.3,"p":8.8,"g":10,"q":-1.5,"c":-2.7},
      {"b":"L","r":8.825,"d":5.4,"p":9.1,"g":10.35,"q":-3.7,"c":-5},
      {"b":"L","r":8.85,"d":11,"p":9.4,"g":10.7,"q":1.6,"c":0.3},
      {"b":"L","r":8.875,"d":7.6,"p":9.7,"g":11,"q":-2.1,"c":-3.4},
      {"b":"L","r":8.9,"d":12.5,"p":10,"g":11.3,"q":2.5,"c":1.2},
      {"b":"L","r":8.95,"d":9.5,"p":10.5,"g":11.8,"q":-1,"c":-2.3},
      {"b":"L","r":9.0,"d":10,"p":10.9,"g":12.3,"q":-0.9,"c":-2.3},
      {"b":"L","r":9.1,"d":10.5,"p":11.5,"g":13,"q":-1,"c":-2.5},
      {"b":"L","r":9.2,"d":11,"p":11.9,"g":13.4,"q":-0.9,"c":-2.4},
      {"b":"L","r":9.3,"d":11,"p":12,"g":13.5,"q":-1,"c":-2.5},
      {"b":"L","r":9.4,"d":11.5,"p":11.9,"g":13.4,"q":-0.4,"c":-1.9},
      {"b":"L","r":9.5,"d":12,"p":11.6,"g":13,"q":0.4,"c":-1},
      {"b":"L","r":9.6,"d":11.5,"p":11.1,"g":12.5,"q":0.4,"c":-1},
      {"b":"L","r":9.7,"d":11,"p":10.4,"g":11.6,"q":0.6,"c":-0.6},
      {"b":"L","r":9.8,"d":10.5,"p":9.5,"g":10.6,"q":1,"c":-0.1},
      {"b":"L","r":9.9,"d":10,"p":8.5,"g":9.5,"q":1.5,"c":0.5},
      {"b":"L","r":10.0,"d":8,"p":7.6,"g":8.5,"q":0.4,"c":-0.5},
      {"b":"L","r":10.1,"d":7,"p":6.5,"g":7.3,"q":0.5,"c":-0.3},
      {"b":"L","r":10.2,"d":5,"p":5.4,"g":6.1,"q":-0.4,"c":-1.1},
      {"b":"L","r":10.3,"d":2.5,"p":4.3,"g":4.9,"q":-1.8,"c":-2.4},
      {"b":"L","r":10.4,"d":1.5,"p":3.3,"g":3.7,"q":-1.8,"c":-2.2},
      {"b":"L","r":10.5,"d":0.5,"p":2.3,"g":2.6,"q":-1.8,"c":-2.1},
      {"b":"L","r":10.6,"d":0,"p":1.3,"g":1.5,"q":-1.3,"c":-1.5},
      {"b":"L","r":10.7,"d":-0.5,"p":0.4,"g":0.5,"q":-0.9,"c":-1},
      {"b":"L","r":10.8,"d":-2,"p":-0.3,"g":-0.3,"q":-1.7,"c":-1.7},
      {"b":"L","r":10.9,"d":-3.5,"p":-1.1,"g":-1.3,"q":-2.4,"c":-2.2},
      {"b":"L","r":11.0,"d":-5,"p":-1.9,"g":-2.2,"q":-3.1,"c":-2.8},
      {"b":"L","r":11.1,"d":-6.5,"p":-2.6,"g":-3,"q":-3.9,"c":-3.5},
      {"b":"L","r":11.2,"d":-8,"p":-3.4,"g":-4,"q":-4.6,"c":-4},
      {"b":"L","r":11.3,"d":-10,"p":-4.1,"g":-4.8,"q":-5.9,"c":-5.2},
      {"b":"L","r":11.4,"d":-11.5,"p":-4.8,"g":-5.6,"q":-6.7,"c":-5.9},
      {"b":"L","r":11.5,"d":-12,"p":-5.5,"g":-6.4,"q":-6.5,"c":-5.6},
      {"b":"L","r":11.6,"d":-12,"p":-6.1,"g":-7.1,"q":-5.9,"c":-4.9},
      {"b":"L","r":11.7,"d":-12.5,"p":-6.6,"g":-7.7,"q":-5.9,"c":-4.8},
      {"b":"L","r":11.8,"d":-11.5,"p":-7.1,"g":-8.3,"q":-4.4,"c":-3.2},
      {"b":"L","r":11.9,"d":-11,"p":-7.6,"g":-8.8,"q":-3.4,"c":-2.2},
      {"b":"L","r":12.0,"d":-10.5,"p":-8,"g":-9.3,"q":-2.5,"c":-1.2}
    ],
    "br": [
      {"b":"A","r":6.55,"d":-34,"p":-42.3,"g":-41.5,"q":8.3,"c":7.5},
      {"b":"A","r":6.6,"d":-30,"p":-37.7,"g":-37,"q":7.7,"c":7},
      {"b":"A","r":6.65,"d":-24,"p":-33.2,"g":-32.5,"q":9.2,"c":8.5},
      {"b":"A","r":6.7,"d":-19,"p":-28.6,"g":-28,"q":9.6,"c":9},
      {"b":"A","r":6.8,"d":-12,"p":-19.4,"g":-19,"q":7.4,"c":7},
      {"b":"A","r":6.9,"d":-5,"p":-10.2,"g":-10,"q":5.2,"c":5},
      {"b":"A","r":7.0,"d":8,"p":-1.5,"g":-1.5,"q":9.5,"c":9.5},
      {"b":"A","r":7.05,"d":15,"p":2.6,"g":2.5,"q":12.4,"c":12.5},
      {"b":"A","r":7.1,"d":22,"p":6.6,"g":6.5,"q":15.4,"c":15.5},
      {"b":"A","r":7.2,"d":31,"p":12.8,"g":12.5,"q":18.2,"c":18.5},
      {"b":"A","r":7.3,"d":36,"p":18.4,"g":18,"q":17.6,"c":18},
      {"b":"A","r":7.4,"d":38,"p":23.5,"g":23,"q":14.5,"c":15},
      {"b":"A","r":7.45,"d":42,"p":26,"g":25.5,"q":16,"c":16.5},
      {"b":"A","r":7.5,"d":36,"p":28.6,"g":28,"q":7.4,"c":8},
      {"b":"A","r":7.6,"d":33.5,"p":32.6,"g":32,"q":0.9,"c":1.5},
      {"b":"A","r":7.7,"d":36,"p":36.2,"g":35.5,"q":-0.2,"c":0.5},
      {"b":"A","r":7.8,"d":37.5,"p":39.3,"g":38.5,"q":-1.8,"c":-1},
      {"b":"A","r":7.9,"d":38.5,"p":41.3,"g":40.5,"q":-2.8,"c":-2},
      {"b":"A","r":8.0,"d":39.5,"p":42.8,"g":42,"q":-3.3,"c":-2.5},
      {"b":"A","r":8.1,"d":39,"p":43.6,"g":42.7,"q":-4.6,"c":-3.7},
      {"b":"A","r":8.2,"d":39.5,"p":43.7,"g":42.8,"q":-4.2,"c":-3.3},
      {"b":"A","r":8.3,"d":38.5,"p":42.8,"g":42,"q":-4.3,"c":-3.5},
      {"b":"A","r":8.4,"d":37.5,"p":41.3,"g":40.5,"q":-3.8,"c":-3},
      {"b":"A","r":8.5,"d":36,"p":39.3,"g":38.5,"q":-3.3,"c":-2.5},
      {"b":"A","r":8.6,"d":34,"p":36.7,"g":36,"q":-2.7,"c":-2},
      {"b":"A","r":8.7,"d":31.5,"p":33.7,"g":33,"q":-2.2,"c":-1.5},
      {"b":"A","r":8.8,"d":28.5,"p":30.1,"g":29.5,"q":-1.6,"c":-1},
      {"b":"A","r":8.9,"d":25,"p":26,"g":25.5,"q":-1,"c":-0.5},
      {"b":"A","r":9.0,"d":21.5,"p":21.4,"g":21,"q":0.1,"c":0.5},
      {"b":"A","r":9.1,"d":17,"p":16.8,"g":16.5,"q":0.2,"c":0.5},
      {"b":"A","r":9.2,"d":12.5,"p":12.2,"g":12,"q":0.3,"c":0.5},
      {"b":"A","r":9.3,"d":8.5,"p":8.2,"g":8,"q":0.3,"c":0.5},
      {"b":"A","r":9.4,"d":3.5,"p":3.1,"g":3,"q":0.4,"c":0.5},
      {"b":"A","r":9.5,"d":-1.5,"p":-1.5,"g":-1.5,"q":0,"c":0},
      {"b":"A","r":9.6,"d":-6,"p":-6.1,"g":-6,"q":0.1,"c":0},
      {"b":"A","r":9.7,"d":-10,"p":-10.7,"g":-10.5,"q":0.7,"c":0.5},
      {"b":"A","r":9.8,"d":-14.5,"p":-14.8,"g":-14.5,"q":0.3,"c":0},
      {"b":"A","r":9.9,"d":-18,"p":-18.9,"g":-18.5,"q":0.9,"c":0.5},
      {"b":"A","r":10.0,"d":-22,"p":-23,"g":-22.5,"q":1,"c":0.5},
      {"b":"A","r":10.1,"d":-25,"p":-26.5,"g":-26,"q":1.5,"c":1},
      {"b":"A","r":10.2,"d":-29,"p":-30.1,"g":-29.5,"q":1.1,"c":0.5},
      {"b":"A","r":10.3,"d":-32.5,"p":-33.7,"g":-33,"q":1.2,"c":0.5},
      {"b":"A","r":10.35,"d":-29.5,"p":-35,"g":-34.3,"q":5.5,"c":4.8},
      {"b":"A","r":10.4,"d":-35,"p":-36.2,"g":-35.5,"q":1.2,"c":0.5},
      {"b":"A","r":10.5,"d":-37.5,"p":-38.8,"g":-38,"q":1.3,"c":0.5},
      {"b":"A","r":10.6,"d":-39,"p":-41.3,"g":-40.5,"q":2.3,"c":1.5},
      {"b":"A","r":10.7,"d":-39.8,"p":-42.8,"g":-42,"q":3,"c":2.2},
      {"b":"A","r":10.8,"d":-40,"p":-43.9,"g":-43,"q":3.9,"c":3},
      {"b":"A","r":10.9,"d":-39.6,"p":-44.5,"g":-43.6,"q":4.9,"c":4},
      {"b":"A","r":11.0,"d":-38.7,"p":-44.6,"g":-43.7,"q":5.9,"c":5},
      {"b":"A","r":11.1,"d":-37.7,"p":-44.1,"g":-43.2,"q":6.4,"c":5.5},
      {"b":"A","r":11.2,"d":-36.4,"p":-42.7,"g":-41.9,"q":6.3,"c":5.5},
      {"b":"A","r":11.3,"d":-34.1,"p":-40.9,"g":-40.1,"q":6.8,"c":6},
      {"b":"A","r":11.4,"d":-31.7,"p":-38.5,"g":-37.7,"q":6.8,"c":6},
      {"b":"A","r":11.5,"d":-28.3,"p":-35,"g":-34.3,"q":6.7,"c":6},
      {"b":"A","r":11.6,"d":-23.9,"p":-31,"g":-30.4,"q":7.1,"c":6.5},
      {"b":"A","r":11.7,"d":-20.4,"p":-26.9,"g":-26.4,"q":6.5,"c":6},
      {"b":"A","r":11.8,"d":-16.4,"p":-22.8,"g":-22.4,"q":6.4,"c":6},
      {"b":"A","r":11.9,"d":-12.5,"p":-18.4,"g":-18,"q":5.9,"c":5.5},
      {"b":"A","r":12.0,"d":-9,"p":-13.8,"g":-13.5,"q":4.8,"c":4.5},
      {"b":"B","r":6.55,"d":-42,"p":-42.3,"g":-41.5,"q":0.3,"c":-0.5},
      {"b":"B","r":6.6,"d":-38,"p":-37.7,"g":-37,"q":-0.3,"c":-1},
      {"b":"B","r":6.65,"d":-33,"p":-33.2,"g":-32.5,"q":0.2,"c":-0.5},
      {"b":"B","r":6.7,"d":-27,"p":-28.6,"g":-28,"q":1.6,"c":1},
      {"b":"B","r":6.8,"d":-18,"p":-19.4,"g":-19,"q":1.4,"c":1},
      {"b":"B","r":6.9,"d":-8,"p":-10.2,"g":-10,"q":2.2,"c":2},
      {"b":"B","r":7.0,"d":0,"p":-1.5,"g":-1.5,"q":1.5,"c":1.5},
      {"b":"B","r":7.05,"d":4,"p":2.6,"g":2.5,"q":1.4,"c":1.5},
      {"b":"B","r":7.1,"d":8,"p":6.6,"g":6.5,"q":1.4,"c":1.5},
      {"b":"B","r":7.2,"d":15,"p":12.8,"g":12.5,"q":2.2,"c":2.5},
      {"b":"B","r":7.3,"d":21,"p":18.4,"g":18,"q":2.6,"c":3},
      {"b":"B","r":7.4,"d":26,"p":23.5,"g":23,"q":2.5,"c":3},
      {"b":"B","r":7.45,"d":28,"p":26,"g":25.5,"q":2,"c":2.5},
      {"b":"B","r":7.5,"d":31,"p":28.6,"g":28,"q":2.4,"c":3},
      {"b":"B","r":7.6,"d":36,"p":32.6,"g":32,"q":3.4,"c":4},
      {"b":"B","r":7.65,"d":45,"p":34.5,"g":33.8,"q":10.5,"c":11.2},
      {"b":"B","r":7.7,"d":51,"p":36.2,"g":35.5,"q":14.8,"c":15.5},
      {"b":"B","r":7.75,"d":47,"p":37.7,"g":37,"q":9.3,"c":10},
      {"b":"B","r":7.8,"d":48.5,"p":39.3,"g":38.5,"q":9.2,"c":10},
      {"b":"B","r":7.9,"d":47.5,"p":41.3,"g":40.5,"q":6.2,"c":7},
      {"b":"B","r":8.0,"d":49,"p":42.8,"g":42,"q":6.2,"c":7},
      {"b":"B","r":8.1,"d":50.5,"p":43.6,"g":42.7,"q":6.9,"c":7.8},
      {"b":"B","r":8.2,"d":49.5,"p":43.7,"g":42.8,"q":5.8,"c":6.7},
      {"b":"B","r":8.3,"d":48.5,"p":42.8,"g":42,"q":5.7,"c":6.5},
      {"b":"B","r":8.4,"d":47.5,"p":41.3,"g":40.5,"q":6.2,"c":7},
      {"b":"B","r":8.5,"d":45,"p":39.3,"g":38.5,"q":5.7,"c":6.5},
      {"b":"B","r":8.6,"d":42,"p":36.7,"g":36,"q":5.3,"c":6},
      {"b":"B","r":8.7,"d":39.5,"p":33.7,"g":33,"q":5.8,"c":6.5},
      {"b":"B","r":8.8,"d":35.5,"p":30.1,"g":29.5,"q":5.4,"c":6},
      {"b":"B","r":8.9,"d":30,"p":26,"g":25.5,"q":4,"c":4.5},
      {"b":"B","r":9.0,"d":24.5,"p":21.4,"g":21,"q":3.1,"c":3.5},
      {"b":"B","r":9.1,"d":19.5,"p":16.8,"g":16.5,"q":2.7,"c":3},
      {"b":"B","r":9.2,"d":14,"p":12.2,"g":12,"q":1.8,"c":2},
      {"b":"B","r":9.3,"d":12,"p":8.2,"g":8,"q":3.8,"c":4},
      {"b":"B","r":9.4,"d":4,"p":3.1,"g":3,"q":0.9,"c":1},
      {"b":"B","r":9.5,"d":-1.5,"p":-1.5,"g":-1.5,"q":0,"c":0},
      {"b":"B","r":9.6,"d":-7.5,"p":-6.1,"g":-6,"q":-1.4,"c":-1.5},
      {"b":"B","r":9.7,"d":-12,"p":-10.7,"g":-10.5,"q":-1.3,"c":-1.5},
      {"b":"B","r":9.8,"d":-16,"p":-14.8,"g":-14.5,"q":-1.2,"c":-1.5},
      {"b":"B","r":9.9,"d":-22,"p":-18.9,"g":-18.5,"q":-3.1,"c":-3.5},
      {"b":"B","r":10.0,"d":-29,"p":-23,"g":-22.5,"q":-6,"c":-6.5},
      {"b":"B","r":10.1,"d":-31,"p":-26.5,"g":-26,"q":-4.5,"c":-5},
      {"b":"B","r":10.2,"d":-32.5,"p":-30.1,"g":-29.5,"q":-2.4,"c":-3},
      {"b":"B","r":10.3,"d":-35,"p":-33.7,"g":-33,"q":-1.3,"c":-2},
      {"b":"B","r":10.35,"d":-36.5,"p":-35,"g":-34.3,"q":-1.5,"c":-2.2},
      {"b":"B","r":10.4,"d":-37.5,"p":-36.2,"g":-35.5,"q":-1.3,"c":-2},
      {"b":"B","r":10.5,"d":-40,"p":-38.8,"g":-38,"q":-1.2,"c":-2},
      {"b":"B","r":10.6,"d":-42.5,"p":-40.8,"g":-40,"q":-1.7,"c":-2.5},
      {"b":"B","r":10.7,"d":-44,"p":-42.1,"g":-41.3,"q":-1.9,"c":-2.7},
      {"b":"B","r":10.8,"d":-45.2,"p":-43,"g":-42.2,"q":-2.2,"c":-3},
      {"b":"B","r":10.9,"d":-46,"p":-43.4,"g":-42.5,"q":-2.6,"c":-3.5},
      {"b":"B","r":11.0,"d":-46.5,"p":-43.1,"g":-42.3,"q":-3.4,"c":-4.2},
      {"b":"B","r":11.1,"d":-46.5,"p":-42.3,"g":-41.5,"q":-4.2,"c":-5},
      {"b":"B","r":11.2,"d":-46,"p":-40.8,"g":-40,"q":-5.2,"c":-6},
      {"b":"B","r":11.3,"d":-45,"p":-38.8,"g":-38,"q":-6.2,"c":-7},
      {"b":"B","r":11.4,"d":-42,"p":-36.2,"g":-35.5,"q":-5.8,"c":-6.5},
      {"b":"B","r":11.5,"d":-37.5,"p":-32.6,"g":-32,"q":-4.9,"c":-5.5},
      {"b":"B","r":11.6,"d":-34,"p":-28.6,"g":-28,"q":-5.4,"c":-6},
      {"b":"B","r":11.7,"d":-31,"p":-24.5,"g":-24,"q":-6.5,"c":-7},
      {"b":"B","r":11.8,"d":-28.5,"p":-20.4,"g":-20,"q":-8.1,"c":-8.5},
      {"b":"B","r":11.9,"d":-26,"p":-15.8,"g":-15.5,"q":-10.2,"c":-10.5},
      {"b":"B","r":12.0,"d":-12,"p":-11.2,"g":-11,"q":-0.8,"c":-1}
    ],
    "key": [
      {"series":"G23 data","it":"G23","rest":"data","col":0,"row":0},
      {"series":"C-O-RD model","it":"C-O-RD","rest":"model","col":1,"row":0},
      {"series":"CD-O-R model","it":"CD-O-R","rest":"model","col":2,"row":0},
      {"series":"C-O-RD misfit","it":"C-O-RD","rest":"misfit","col":1,"row":1},
      {"series":"CD-O-R misfit","it":"CD-O-R","rest":"misfit","col":2,"row":1}
    ]
  },
  "vconcat": [
    {
      "spacing": 0,
      "bounds": "flush",
      "vconcat": [
        {
          "width": 567, "height": 180,
          "data": {"name": "th"},
          "layer": [
            {"mark": {"type": "rule", "strokeDash": [1.5, 4.5], "color": "#444", "strokeWidth": 1.3},
             "encoding": {"y": {"datum": 0, "type": "quantitative", "scale": {"domain": [-50, 150], "nice": false, "zero": false}, "axis": null}}},
            {"mark": {"type": "line", "color": "#ef5350", "strokeWidth": 2.2},
             "encoding": {
               "x": {"field": "r", "type": "quantitative", "scale": {"domain": [6, 12], "nice": false, "zero": false},
                     "axis": {"orient": "bottom", "values": [6,7,8,9,10,11,12], "labels": false, "title": null, "grid": true, "gridOpacity": {"condition": {"test": "datum.value == 8 || datum.value == 10", "value": 1}, "value": 0}}},
               "y": {"field": "d", "type": "quantitative", "scale": {"domain": [-50, 150], "nice": false, "zero": false},
                     "axis": {"orient": "left", "values": [-25,0,25,50,75,100,125,150], "labelExpr": "datum.value % 50 == 0 ? '' + datum.value : ''", "title": "-Bθ field (nT)", "titleX": -52, "grid": false}},
               "detail": {"field": "b"}}},
            {"mark": {"type": "line", "color": "#d5c5e5", "strokeWidth": 3.2},
             "encoding": {
               "x": {"field": "r", "type": "quantitative", "axis": {"orient": "top", "values": [6,7,8,9,10,11,12], "labels": false, "title": null, "grid": false}},
               "y": {"field": "q", "type": "quantitative", "axis": {"orient": "right", "values": [-25,0,25,50,75,100,125,150], "labels": false, "title": null, "grid": false}},
               "detail": {"field": "b"}}},
            {"mark": {"type": "line", "color": "#1c99d0", "strokeWidth": 2.2},
             "encoding": {"x": {"field": "r", "type": "quantitative", "axis": null}, "y": {"field": "c", "type": "quantitative", "axis": null}, "detail": {"field": "b"}}},
            {"mark": {"type": "line", "color": "#9a79b6", "strokeWidth": 2},
             "encoding": {"x": {"field": "r", "type": "quantitative", "axis": null}, "y": {"field": "p", "type": "quantitative", "axis": null}, "detail": {"field": "b"}}},
            {"mark": {"type": "line", "color": "#98c25a", "strokeWidth": 2},
             "encoding": {"x": {"field": "r", "type": "quantitative", "axis": null}, "y": {"field": "g", "type": "quantitative", "axis": null}, "detail": {"field": "b"}}}
          ]
        },
        {
          "width": 567, "height": 180,
          "data": {"name": "ph"},
          "layer": [
            {"mark": {"type": "rule", "strokeDash": [1.5, 4.5], "color": "#444", "strokeWidth": 1.3},
             "encoding": {"y": {"datum": 0, "type": "quantitative", "scale": {"domain": [-20, 30], "nice": false, "zero": false}, "axis": null}}},
            {"mark": {"type": "line", "color": "#ef5350", "strokeWidth": 1.5},
             "encoding": {
               "x": {"field": "r", "type": "quantitative", "scale": {"domain": [6, 12], "nice": false, "zero": false},
                     "axis": {"orient": "bottom", "values": [6,7,8,9,10,11,12], "labels": false, "title": null, "grid": true, "gridOpacity": {"condition": {"test": "datum.value == 8 || datum.value == 10", "value": 1}, "value": 0}}},
               "y": {"field": "d", "type": "quantitative", "scale": {"domain": [-20, 30], "nice": false, "zero": false},
                     "axis": {"orient": "left", "values": [-15,-10,-5,0,5,10,15,20,25], "labelExpr": "datum.value % 10 == 0 ? '' + datum.value : ''", "title": "-Bφ field (nT)", "titleX": -52, "grid": false}},
               "detail": {"field": "b"}}},
            {"mark": {"type": "line", "color": "#d5c5e5", "strokeWidth": 2.4},
             "encoding": {
               "x": {"field": "r", "type": "quantitative", "axis": {"orient": "top", "values": [6,7,8,9,10,11,12], "labels": false, "title": null, "grid": false}},
               "y": {"field": "q", "type": "quantitative", "axis": {"orient": "right", "values": [-15,-10,-5,0,5,10,15,20,25], "labels": false, "title": null, "grid": false}},
               "detail": {"field": "b"}}},
            {"mark": {"type": "line", "color": "#1c99d0", "strokeWidth": 1.5},
             "encoding": {"x": {"field": "r", "type": "quantitative", "axis": null}, "y": {"field": "c", "type": "quantitative", "axis": null}, "detail": {"field": "b"}}},
            {"mark": {"type": "line", "color": "#9a79b6", "strokeWidth": 2},
             "encoding": {"x": {"field": "r", "type": "quantitative", "axis": null}, "y": {"field": "p", "type": "quantitative", "axis": null}, "detail": {"field": "b"}}},
            {"mark": {"type": "line", "color": "#98c25a", "strokeWidth": 2},
             "encoding": {"x": {"field": "r", "type": "quantitative", "axis": null}, "y": {"field": "g", "type": "quantitative", "axis": null}, "detail": {"field": "b"}}}
          ]
        },
        {
          "width": 567, "height": 180,
          "data": {"name": "br"},
          "layer": [
            {"mark": {"type": "rule", "strokeDash": [1.5, 4.5], "color": "#444", "strokeWidth": 1.3},
             "encoding": {"y": {"datum": 0, "type": "quantitative", "scale": {"domain": [-60, 60], "nice": false, "zero": false}, "axis": null}}},
            {"mark": {"type": "line", "color": "#ef5350", "strokeWidth": 2.2},
             "encoding": {
               "x": {"field": "r", "type": "quantitative", "scale": {"domain": [6, 12], "nice": false, "zero": false},
                     "axis": {"orient": "bottom", "values": [6,7,8,9,10,11,12], "labelExpr": "datum.value % 2 == 0 ? '' + datum.value : ''", "title": "Radius (Rⱼ)", "titlePadding": -2, "grid": true, "gridOpacity": {"condition": {"test": "datum.value == 8 || datum.value == 10", "value": 1}, "value": 0}}},
               "y": {"field": "d", "type": "quantitative", "scale": {"domain": [-60, 60], "nice": false, "zero": false},
                     "axis": {"orient": "left", "values": [-60,-50,-40,-30,-20,-10,0,10,20,30,40,50], "labelExpr": "datum.value % 20 == 0 ? '' + datum.value : ''", "title": "-Bᵣ field (nT)", "titleX": -52, "grid": false}},
               "detail": {"field": "b"}}},
            {"mark": {"type": "line", "color": "#d5c5e5", "strokeWidth": 3},
             "encoding": {
               "x": {"field": "r", "type": "quantitative", "axis": {"orient": "top", "values": [6,7,8,9,10,11,12], "labels": false, "title": null, "grid": false}},
               "y": {"field": "q", "type": "quantitative", "axis": {"orient": "right", "values": [-60,-50,-40,-30,-20,-10,0,10,20,30,40,50], "labels": false, "title": null, "grid": false}},
               "detail": {"field": "b"}}},
            {"mark": {"type": "line", "color": "#1c99d0", "strokeWidth": 2.2},
             "encoding": {"x": {"field": "r", "type": "quantitative", "axis": null}, "y": {"field": "c", "type": "quantitative", "axis": null}, "detail": {"field": "b"}}},
            {"mark": {"type": "line", "color": "#9a79b6", "strokeWidth": 2},
             "encoding": {"x": {"field": "r", "type": "quantitative", "axis": null}, "y": {"field": "p", "type": "quantitative", "axis": null}, "detail": {"field": "b"}}},
            {"mark": {"type": "line", "color": "#98c25a", "strokeWidth": 2},
             "encoding": {"x": {"field": "r", "type": "quantitative", "axis": null}, "y": {"field": "g", "type": "quantitative", "axis": null}, "detail": {"field": "b"}}}
          ]
        }
      ]
    },
    {
      "width": 567, "height": 68,
      "view": {"stroke": "#777", "strokeWidth": 1.5},
      "data": {"name": "key"},
      "resolve": {"scale": {"x": "independent"}},
      "layer": [
        {"mark": {"type": "point", "shape": "M-1,-0.55L1,-0.55L1,0.55L-1,0.55Z", "filled": true, "size": 784, "opacity": 1, "strokeWidth": 0},
         "encoding": {
           "x": {"field": "col", "type": "quantitative", "scale": {"domain": [-0.6066, 2.0806]}, "axis": null},
           "y": {"field": "row", "type": "quantitative", "scale": {"domain": [-0.7333, 1.5333], "reverse": true}, "axis": null},
           "color": {"field": "series", "type": "nominal", "legend": null,
                     "scale": {"domain": ["G23 data", "C-O-RD model", "CD-O-R model", "C-O-RD misfit", "CD-O-R misfit"], "range": ["#ef5350", "#9a79b6", "#98c25a", "#d5c5e5", "#1c99d0"]}}}},
        {"mark": {"type": "text", "align": "right", "baseline": "middle", "fontStyle": "italic", "fontSize": 21, "color": "#333"},
         "encoding": {
           "x": {"field": "col", "type": "quantitative", "scale": {"domain": [-0.2463, 2.547]}, "axis": null},
           "y": {"field": "row", "type": "quantitative", "axis": null},
           "text": {"field": "it"}}},
        {"mark": {"type": "text", "align": "left", "baseline": "middle", "fontSize": 21, "color": "#333", "dx": 5},
         "encoding": {
           "x": {"field": "col", "type": "quantitative", "scale": {"domain": [-0.2463, 2.547]}, "axis": null},
           "y": {"field": "row", "type": "quantitative", "axis": null},
           "text": {"field": "rest"}}}
      ]
    }
  ]
}
